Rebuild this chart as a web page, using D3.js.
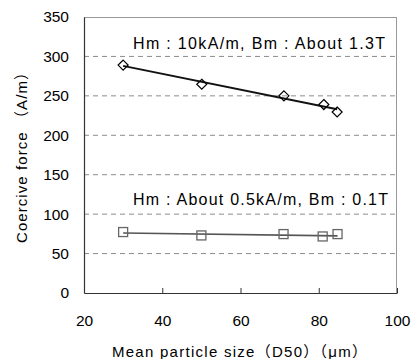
<!DOCTYPE html>
<html><head><meta charset="utf-8">
<script src="https://cdn.jsdelivr.net/npm/d3@7"></script>
<style>body{margin:0;background:#fff}svg{display:block}text{font-family:"Liberation Sans","Noto Sans CJK JP",Arial,sans-serif;fill:#000}</style>
</head><body>
<svg id="c" width="414" height="359"></svg>
<script>
const xTicks = [20, 40, 60, 80, 100];
const yTicks = [0, 50, 100, 150, 200, 250, 300, 350];
const highX = [30, 50.1, 71.1, 81.3, 84.7];
const highY = [289, 264.7, 250, 239, 229.5];
const highTrendX = [30, 84.7];
const highTrendY = [288, 233];
const lowX = [30, 50, 71, 81, 84.8];
const lowY = [77.3, 73, 74.7, 71.7, 74.7];
const lowTrendX = [30, 84.8];
const lowTrendY = [76, 72.5];
const labels = ["Hm : 10kA/m, Bm : About 1.3T", "Hm : About 0.5kA/m, Bm : 0.1T"];

const svg = d3.select("#c");
const L = 84, R = 397, T = 17, B = 293;
const x = d3.scaleLinear().domain([20, 100]).range([L, R]);
const y = d3.scaleLinear().domain([0, 350]).range([B, T]);

// grid
svg.append("g").selectAll("line").data(yTicks.filter(d => d > 0 && d < 350)).join("line")
  .attr("x1", L).attr("x2", R).attr("y1", d => y(d)).attr("y2", d => y(d))
  .attr("stroke", "#8c8c8c").attr("stroke-width", 1).attr("stroke-dasharray", "5,4");
// frame top/right grey
svg.append("line").attr("x1", L).attr("x2", R).attr("y1", T + 0.5).attr("y2", T + 0.5).attr("stroke", "#999");
svg.append("line").attr("x1", R - 0.5).attr("x2", R - 0.5).attr("y1", T).attr("y2", B).attr("stroke", "#999");

// axes
const xa = svg.append("g").attr("transform", `translate(0,${B})`)
  .call(d3.axisBottom(x).tickValues(xTicks).tickSizeInner(-5).tickSizeOuter(0).tickPadding(22));
xa.select(".domain").attr("stroke", "#333").attr("stroke-width", 1.2);
xa.selectAll(".tick line").attr("stroke", "#333");
xa.selectAll("text").attr("font-size", 15.5).style("font-family", "Liberation Sans, Arial, sans-serif");

const ya = svg.append("g").attr("transform", `translate(${L},0)`)
  .call(d3.axisLeft(y).tickValues(yTicks).tickSize(0).tickPadding(15));
ya.select(".domain").attr("stroke", "#333").attr("stroke-width", 1.2);
ya.selectAll("text").attr("font-size", 15.5).style("font-family", "Liberation Sans, Arial, sans-serif");

// trend lines
svg.append("line").attr("x1", x(highTrendX[0])).attr("y1", y(highTrendY[0]))
  .attr("x2", x(highTrendX[1])).attr("y2", y(highTrendY[1])).attr("stroke", "#111").attr("stroke-width", 2);
svg.append("line").attr("x1", x(lowTrendX[0])).attr("y1", y(lowTrendY[0]))
  .attr("x2", x(lowTrendX[1])).attr("y2", y(lowTrendY[1])).attr("stroke", "#555").attr("stroke-width", 1.6);

// markers
const hd = highX.map((v, i) => [v, highY[i]]);
svg.append("g").selectAll("path").data(hd).join("path")
  .attr("d", d => `M${x(d[0])},${y(d[1]) - 5}L${x(d[0]) + 5},${y(d[1])}L${x(d[0])},${y(d[1]) + 5}L${x(d[0]) - 5},${y(d[1])}Z`)
  .attr("fill", "none").attr("stroke", "#000").attr("stroke-width", 1.2);
const ld = lowX.map((v, i) => [v, lowY[i]]);
svg.append("g").selectAll("rect").data(ld).join("rect")
  .attr("x", d => x(d[0]) - 4.5).attr("y", d => y(d[1]) - 4.5).attr("width", 9).attr("height", 9)
  .attr("fill", "none").attr("stroke", "#666").attr("stroke-width", 1.3);

// annotations
svg.append("text").attr("x", 133).attr("y", 49).attr("font-size", 16)
  .attr("textLength", 252).attr("lengthAdjust", "spacing").style("white-space", "pre").text(labels[0]);
svg.append("text").attr("x", 133).attr("y", 205).attr("font-size", 16)
  .attr("textLength", 255).attr("lengthAdjust", "spacing").style("white-space", "pre").text(labels[1]);

// axis titles
svg.append("text").attr("x", 112).attr("y", 357).attr("font-size", 15)
  .attr("textLength", 255).attr("lengthAdjust", "spacing")
  .text("Mean particle size（D50）（μm）");
svg.append("text").attr("transform", "translate(27,243) rotate(-90)").attr("font-size", 15)
  .attr("textLength", 178).attr("lengthAdjust", "spacing")
  .text("Coercive force （A/m）");
</script>
</body></html>
